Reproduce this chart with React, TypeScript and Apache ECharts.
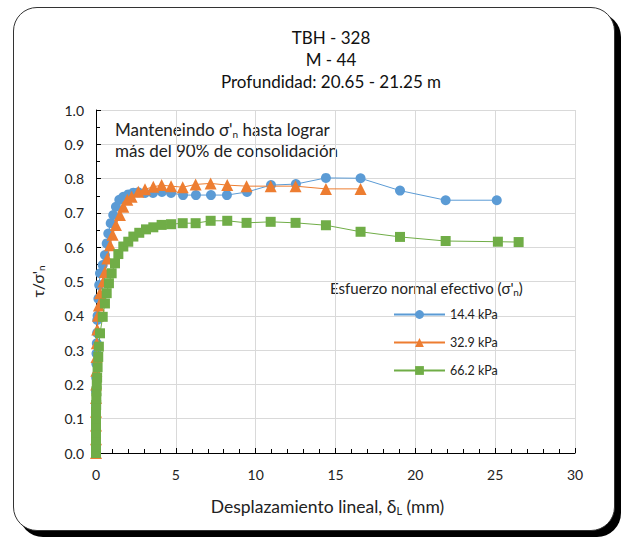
import React, { useEffect, useRef } from "react";
import * as echarts from "echarts";

const seriesNames = ["14.4 kPa", "32.9 kPa", "66.2 kPa"];

const blueX = [0, 0, 0, 0, 0, 0, 0.01, 0.02, 0.03, 0.05, 0.07, 0.08, 0.1, 0.15, 0.2, 0.25, 0.42, 0.56, 0.67, 0.77, 0.92, 1.08, 1.25, 1.46, 1.71, 2.02, 2.34, 2.65, 3.07, 3.57, 4.13, 4.7, 5.45, 6.26, 7.2, 8.2, 9.46, 10.96, 12.52, 14.4, 16.57, 19.04, 21.9, 25.1];
const blueY = [0, 0.03, 0.06, 0.1, 0.14, 0.18, 0.22, 0.26, 0.29, 0.32, 0.35, 0.388, 0.4, 0.45, 0.49, 0.524, 0.548, 0.577, 0.611, 0.64, 0.67, 0.694, 0.718, 0.738, 0.747, 0.754, 0.759, 0.76, 0.758, 0.758, 0.761, 0.758, 0.752, 0.752, 0.752, 0.752, 0.761, 0.781, 0.784, 0.802, 0.801, 0.765, 0.737, 0.737];

const orangeX = [0, 0, 0, 0, 0, 0.01, 0.02, 0.03, 0.05, 0.08, 0.12, 0.18, 0.25, 0.46, 0.56, 0.71, 0.88, 1.04, 1.25, 1.5, 1.71, 1.96, 2.23, 2.65, 3.07, 3.59, 4.11, 4.7, 5.43, 6.24, 7.18, 8.22, 9.43, 10.94, 12.5, 14.4, 16.57];
const orangeY = [0, 0.04, 0.08, 0.12, 0.16, 0.2, 0.24, 0.28, 0.32, 0.36, 0.4, 0.43, 0.466, 0.5, 0.528, 0.567, 0.606, 0.636, 0.665, 0.694, 0.718, 0.738, 0.747, 0.762, 0.769, 0.776, 0.781, 0.778, 0.775, 0.783, 0.786, 0.781, 0.778, 0.778, 0.778, 0.77, 0.77];

const greenX = [0, 0, 0, 0, 0, 0, 0, 0.01, 0.02, 0.03, 0.05, 0.07, 0.1, 0.14, 0.18, 0.25, 0.42, 0.56, 0.67, 0.81, 0.98, 1.19, 1.4, 1.71, 2.02, 2.34, 2.71, 3.13, 3.59, 4.11, 4.7, 5.43, 6.24, 7.18, 8.22, 9.43, 10.94, 12.5, 14.4, 16.57, 19.04, 21.9, 25.17, 26.47];
const greenY = [0, 0.02, 0.04, 0.06, 0.08, 0.1, 0.12, 0.14, 0.16, 0.18, 0.2, 0.22, 0.25, 0.28, 0.31, 0.349, 0.397, 0.436, 0.466, 0.495, 0.524, 0.553, 0.58, 0.602, 0.616, 0.631, 0.642, 0.652, 0.658, 0.665, 0.667, 0.67, 0.67, 0.677, 0.677, 0.671, 0.674, 0.671, 0.664, 0.645, 0.63, 0.618, 0.616, 0.615];

const colors = ["#5B9BD5", "#ED7D31", "#70AD47"];
const symbols = ["circle", "triangle", "rect"];
const symbolSizes = [10, 12, 10];

const FONT = "Lato, 'Open Sans', sans-serif";

export default function App() {
  const ref = useRef<HTMLDivElement>(null);

  useEffect(() => {
    if (!ref.current) return;
    const chart = echarts.init(ref.current, undefined, { renderer: "svg" });
    const xs = [blueX, orangeX, greenX];
    const ys = [blueY, orangeY, greenY];
    const series = seriesNames.map((name, i) => ({
      name,
      type: "line",
      data: xs[i].map((x, j) => [x, ys[i][j]]),
      symbol: symbols[i],
      symbolSize: symbolSizes[i],
      showSymbol: true,
      itemStyle: { color: colors[i] },
      lineStyle: { color: colors[i], width: 1 },
      z: 3 + i,
    }));

    chart.setOption({
      animation: false,
      textStyle: { fontFamily: FONT },
      grid: { left: 96, right: 51, top: 110, bottom: 85, containLabel: false },
      xAxis: {
        type: "value",
        min: 0,
        max: 30,
        interval: 5,
        name: "{a|Desplazamiento lineal, δ}{s|L}{a| (mm)}",
        nameLocation: "middle",
        nameGap: 43,
        nameTextStyle: {
          padding: [0, 16, 0, 0],
          rich: {
            a: { fontSize: 17.5, color: "#222", fontFamily: FONT },
            s: { fontSize: 11, color: "#222", fontFamily: FONT, padding: [9, 0, 0, 0] },
          },
        },
        axisLine: { show: true, onZero: false, lineStyle: { color: "#000", width: 1 } },
        axisTick: { show: true, inside: true, length: 5, lineStyle: { color: "#000" } },
        minorTick: { show: true, splitNumber: 5, length: 4, lineStyle: { color: "#000" } },
        axisLabel: { fontSize: 14, color: "#222", margin: 14, fontFamily: FONT },
        splitLine: { show: true, lineStyle: { color: "#d9d9d9", width: 1 } },
      },
      yAxis: {
        type: "value",
        min: 0,
        max: 1,
        interval: 0.1,
        name: "{a|τ/σ'}{s|n}",
        nameLocation: "middle",
        nameRotate: 90,
        nameGap: 50,
        nameTextStyle: {
          rich: {
            a: { fontSize: 16, color: "#222", fontFamily: FONT },
            s: { fontSize: 10, color: "#222", fontFamily: FONT, padding: [8, 0, 0, 0] },
          },
        },
        axisLine: { show: true, onZero: false, lineStyle: { color: "#000", width: 1 } },
        axisTick: { show: true, inside: true, length: 5, lineStyle: { color: "#000" } },
        minorTick: { show: true, splitNumber: 2, length: 4, lineStyle: { color: "#000" } },
        axisLabel: {
          fontSize: 14,
          color: "#222",
          margin: 12,
          fontFamily: FONT,
          formatter: (v: number) => v.toFixed(1),
        },
        splitLine: { show: true, lineStyle: { color: "#d9d9d9", width: 1 } },
      },
      legend: {
        orient: "vertical",
        left: 388,
        top: 303,
        itemWidth: 51,
        itemHeight: 11,
        itemGap: 15,
        textStyle: { fontSize: 12.5, color: "#222", fontFamily: FONT },
        data: seriesNames,
      },
      graphic: [
        {
          type: "text",
          x: 331,
          y: 26,
          style: {
            text: "TBH - 328\nM - 44\nProfundidad: 20.65 - 21.25 m",
            font: `17px ${FONT}`,
            fill: "#111",
            lineHeight: 22,
            align: "center",
            verticalAlign: "top",
          },
        },
        {
          type: "text",
          x: 115,
          y: 119,
          style: {
            text: "{a|Manteneindo σ'}{s|n}{a| hasta lograr}\n{a|más del 90% de consolidación}",
            rich: {
              a: { fontSize: 17, fill: "#222", fontFamily: FONT, lineHeight: 21 },
              s: { fontSize: 10, fill: "#222", fontFamily: FONT, padding: [9, 0, 0, 0], lineHeight: 21 },
            },
          },
        },
        {
          type: "text",
          x: 330,
          y: 279,
          style: {
            text: "{a|Esfuerzo normal efectivo (σ'}{s|n}{a|)}",
            rich: {
              a: { fontSize: 15, fill: "#222", fontFamily: FONT },
              s: { fontSize: 10, fill: "#222", fontFamily: FONT, padding: [8, 0, 0, 0] },
            },
          },
        },
      ],
      series,
    });
    return () => chart.dispose();
  }, []);

  return (
    <div style={{ position: "fixed", left: 0, top: 0, width: 626, height: 538, background: "#fff" }}>
      <div
        style={{
          position: "absolute",
          left: 13,
          top: 7,
          width: 600,
          height: 522,
          border: "1px solid #333",
          borderRadius: 24,
          boxShadow: "6px 6px 0 #000",
          background: "#fff",
        }}
      />
      <div ref={ref} style={{ position: "absolute", left: 0, top: 0, width: 626, height: 538 }} />
    </div>
  );
}
